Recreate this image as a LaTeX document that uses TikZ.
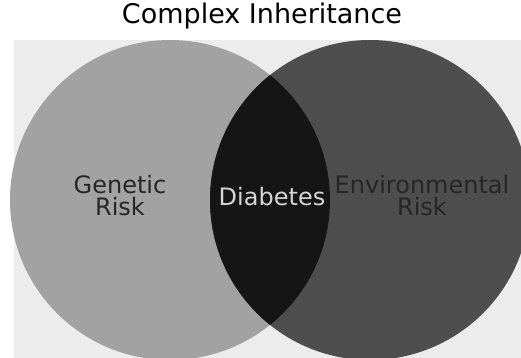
\documentclass[tikz,border=0pt]{standalone}
\usepackage{fontspec}
\setmainfont{DejaVu Sans}
\usepackage{tikz}
\usetikzlibrary{positioning}
\definecolor{Paper}{HTML}{ECECEC}
\definecolor{GeneGray}{HTML}{A2A2A2}
\definecolor{EnvGray}{HTML}{4E4E4E}
\definecolor{Overlap}{HTML}{151515}
\definecolor{LabelDark}{HTML}{262626}
\definecolor{LabelLight}{HTML}{D6D6D6}

\begin{document}
\begin{tikzpicture}[x=1pt,y=-1pt,
    every node/.style={align=center,inner sep=0pt},
    setcircle/.style={circle,minimum size=320pt},
    risklabel/.style={font=\fontsize{24}{22}\selectfont}]
  \useasboundingbox (0,0) rectangle (521,358);
  % backdrop
  \fill[white] (0,0) rectangle (521,358);
  \fill[Paper] (14,40) rectangle (521,358);
  % title
  \node[font=\fontsize{27}{30}\selectfont] (title) at (262,16) {Complex Inheritance};
  % genetic and environmental sets
  \node[setcircle,fill=GeneGray] (gen) at (170,200) {};
  \node[setcircle,fill=EnvGray] (env) at (370,200) {};
  % overlap
  \begin{scope}
    \clip (170,200) circle (160);
    \fill[Overlap] (370,200) circle (160);
  \end{scope}
  % labels
  \node[risklabel,text=LabelDark] (genl) at (120,196) {Genetic\\Risk};
  \node[risklabel,text=LabelLight] (diab) at (272,197) {Diabetes};
  \node[risklabel,text=LabelDark] (envl) at (422,196) {Environmental\\Risk};
\end{tikzpicture}
\end{document}
